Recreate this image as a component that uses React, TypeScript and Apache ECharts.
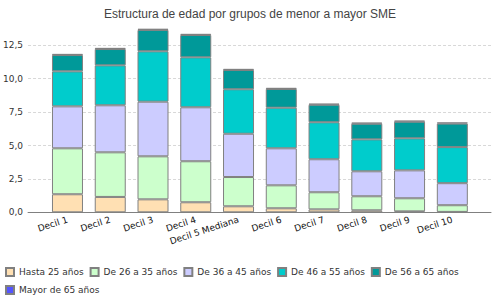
import React, { useEffect, useRef } from "react";
import * as echarts from "echarts";

const categories = ["Decil 1", "Decil 2", "Decil 3", "Decil 4", "Decil 5 Mediana", "Decil 6", "Decil 7", "Decil 8", "Decil 9", "Decil 10"];
const seriesNames = ["Hasta 25 años", "De 26 a 35 años", "De 36 a 45 años", "De 46 a 55 años", "De 56 a 65 años", "Mayor de 65 años"];
const hasta25 = [1.35, 1.15, 0.97, 0.75, 0.45, 0.3, 0.22, 0.15, 0.07, 0.03];
const de26a35 = [3.44, 3.34, 3.22, 3.07, 2.19, 1.72, 1.28, 1.05, 0.98, 0.5];
const de36a45 = [3.14, 3.52, 4.09, 4.04, 3.24, 2.77, 2.47, 1.87, 2.09, 1.65];
const de46a55 = [2.62, 2.99, 3.77, 3.74, 3.33, 3.04, 2.77, 2.39, 2.4, 2.7];
const de56a65 = [1.22, 1.22, 1.6, 1.67, 1.44, 1.4, 1.31, 1.17, 1.24, 1.76];
const mayor65 = [0.09, 0.09, 0.09, 0.09, 0.09, 0.09, 0.09, 0.09, 0.09, 0.09];
const colors = ["#ffe0b3", "#ccffcc", "#ccccff", "#00cccc", "#009999", "#5555ff"];

const FONT = "DejaVu Sans";

export default function App() {
  const ref = useRef<HTMLDivElement>(null);
  useEffect(() => {
    if (!ref.current) return;
    const chart = echarts.init(ref.current, undefined, { renderer: "svg" });
    const values = [hasta25, de26a35, de36a45, de46a55, de56a65, mayor65];
    const unit = 167 / 12.5;
    const barMax = 14;
    const bottom = 300 - 212.3;
    chart.setOption({
      animation: false,
      title: {
        text: "Estructura de edad por grupos de menor a mayor SME",
        left: "center",
        top: 3,
        textStyle: { fontFamily: "Liberation Sans", fontSize: 12, fontWeight: "normal", color: "#444" },
      },
      legend: {
        data: seriesNames,
        left: 5,
        right: 5,
        top: 266,
        icon: "rect",
        itemWidth: 8,
        itemHeight: 8,
        itemGap: 6,
        padding: 0,
        textStyle: { fontFamily: FONT, fontSize: 9, color: "#333", lineHeight: 12 },
      },
      grid: [
        { left: 27, right: 9, top: 212.3 - 12.5 * unit, bottom },
        { left: 46.1, right: 26.3, top: 212.3 - barMax * unit, bottom },
      ],
      xAxis: [
        {
          type: "category",
          gridIndex: 0,
          data: categories,
          axisLine: { show: true, lineStyle: { color: "#808080", width: 1 } },
          axisTick: { show: false },
          axisLabel: { show: false },
        },
        {
          type: "category",
          gridIndex: 1,
          data: categories,
          axisLine: { show: false },
          axisTick: { show: false },
          axisLabel: {
            rotate: 18,
            margin: 7,
            fontFamily: FONT,
            fontSize: 9,
            color: "#111",
            interval: 0,
          },
        },
      ],
      yAxis: [
        {
          type: "value",
          gridIndex: 0,
          min: 0,
          max: 12.5,
          interval: 2.5,
          axisLine: { show: false },
          axisTick: { show: false },
          axisLabel: {
            margin: 5,
            fontFamily: FONT,
            fontSize: 9,
            color: "#333",
            formatter: (v: number) => v.toFixed(1).replace(".", ","),
          },
          splitLine: { show: true, lineStyle: { color: "#d8d8d8", type: [3, 2], width: 1 } },
        },
        {
          type: "value",
          gridIndex: 1,
          min: 0,
          max: barMax,
          show: false,
          splitLine: { show: false },
        },
      ],
      series: seriesNames.map((name, i) => ({
        name,
        type: "bar",
        stack: "total",
        xAxisIndex: 1,
        yAxisIndex: 1,
        data: values[i],
        barWidth: 31,
        itemStyle: { color: colors[i], borderColor: "#808080", borderWidth: 1 },
        emphasis: { disabled: true },
      })),
    });
    return () => chart.dispose();
  }, []);
  return <div ref={ref} style={{ width: 500, height: 300, position: "absolute", left: 0, top: 0 }} />;
}
